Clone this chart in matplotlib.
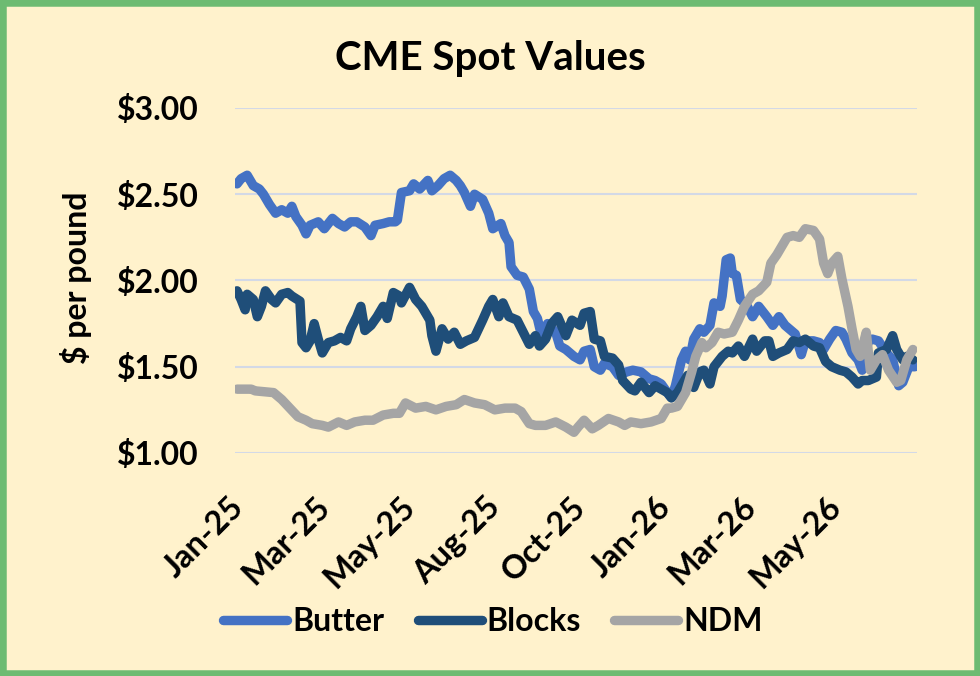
import matplotlib.pyplot as plt
from matplotlib.patches import Rectangle
from matplotlib.transforms import ScaledTranslation

# trading-day index (from first day of Jan-25) and CME spot prices, $/lb
butter_day = [0, 2, 5, 8, 11, 13, 16, 19, 22, 25, 27, 29, 32, 34, 36, 40, 43, 47, 50, 53, 56, 59, 63, 66, 68, 72, 75, 78,
              79, 81, 85, 87, 90, 94, 96, 99, 102, 105, 108, 110, 112, 115, 117, 121, 124, 126, 130, 132, 134, 135, 138,
              141, 144, 146, 148, 150, 153, 157, 159, 162, 166, 169, 171, 174, 176, 179, 181, 185, 188, 192, 195, 199,
              203, 206, 209, 212, 214, 216, 219, 221, 223, 225, 228, 230, 233, 235, 238, 239, 241, 243, 244, 246, 248,
              251, 254, 257, 261, 264, 267, 270, 273, 275, 278, 280, 284, 287, 289, 292, 295, 298, 300, 303, 306, 308,
              311, 313, 316, 320, 323, 326, 328, 331, 334]
butter = [2.56, 2.59, 2.61, 2.55, 2.53, 2.50, 2.44, 2.39, 2.41, 2.39, 2.43, 2.37, 2.32, 2.27, 2.32, 2.34, 2.30, 2.36,
          2.33, 2.31, 2.34, 2.34, 2.31, 2.26, 2.32, 2.33, 2.34, 2.34,
          2.35, 2.51, 2.52, 2.56, 2.53, 2.58, 2.52, 2.55, 2.59, 2.61, 2.58, 2.55, 2.51, 2.43, 2.50, 2.47, 2.39, 2.30,
          2.33, 2.26, 2.22, 2.08, 2.03, 2.02, 1.95, 1.82, 1.78, 1.68, 1.75, 1.70, 1.62, 1.60, 1.56,
          1.54, 1.59, 1.60, 1.50, 1.48, 1.52, 1.50, 1.45, 1.47, 1.48, 1.47, 1.43, 1.42, 1.40, 1.35, 1.32, 1.39, 1.54,
          1.59, 1.54, 1.66, 1.72, 1.70, 1.74, 1.87, 1.85, 1.91, 2.12, 2.13, 2.04, 2.03, 1.89,
          1.86, 1.79, 1.85, 1.79, 1.74, 1.79, 1.74, 1.71, 1.69, 1.57, 1.65, 1.65, 1.64, 1.60, 1.66, 1.71, 1.70, 1.66,
          1.58, 1.54, 1.48, 1.65, 1.66, 1.65, 1.58, 1.54, 1.39, 1.41, 1.50, 1.50]

blocks_day = [0, 2, 4, 5, 8, 10, 12, 14, 17, 19, 22, 25, 27, 31, 32, 34, 36, 38, 40, 42, 45, 48, 51, 54, 56, 59, 61, 63,
              66, 69, 72, 74, 77, 80, 81, 85, 88, 91, 95, 96, 98, 101, 104, 107, 110, 113, 117, 121, 124, 126, 129, 131,
              134, 138, 141, 144, 147, 149, 152, 155, 158, 162, 165, 169, 171, 174, 176, 179, 181, 185, 188, 190, 194,
              196, 199, 203, 206, 209, 212, 214, 217, 220, 222, 225, 228, 230, 233, 235, 239, 242, 244, 247, 250, 254,
              256, 260, 262, 264, 267, 271, 274, 277, 280, 284, 287, 290, 293, 297, 300, 303, 306, 308, 311, 315, 316,
              320, 323, 325, 328, 330, 333]
blocks = [1.94, 1.89, 1.83, 1.92, 1.89, 1.79, 1.85, 1.94, 1.89, 1.87, 1.92, 1.93, 1.91, 1.88, 1.64, 1.61, 1.65, 1.75,
          1.66, 1.58, 1.64, 1.65, 1.67, 1.65, 1.72, 1.79, 1.85, 1.71, 1.74, 1.79, 1.85, 1.78, 1.93, 1.91, 1.87, 1.96,
          1.89, 1.85, 1.77, 1.68, 1.59, 1.72, 1.66, 1.70, 1.63, 1.65, 1.67, 1.77, 1.85, 1.89, 1.79, 1.87, 1.79, 1.77,
          1.70, 1.63, 1.68, 1.62, 1.66, 1.75, 1.79, 1.68, 1.77, 1.74, 1.81, 1.82, 1.66, 1.65, 1.56, 1.55, 1.51, 1.42,
          1.37, 1.36, 1.41, 1.35, 1.39, 1.37, 1.35, 1.32, 1.35, 1.41, 1.45, 1.38, 1.47, 1.48, 1.40, 1.50, 1.56, 1.59,
          1.58, 1.62, 1.56, 1.66, 1.59, 1.65, 1.65, 1.56, 1.58, 1.60, 1.65, 1.64, 1.66, 1.62, 1.61, 1.53, 1.50, 1.48,
          1.47, 1.44, 1.40, 1.42, 1.42, 1.44, 1.58, 1.60, 1.68, 1.60, 1.54, 1.56, 1.54]

ndm_day = [0, 7, 9, 18, 22, 26, 30, 34, 37, 42, 45, 50, 54, 58, 63, 67, 72, 77, 80, 83, 88, 93, 98, 103, 108, 112, 117,
           122, 127, 132, 137, 140, 144, 147, 152, 157, 162, 166, 168, 171, 175, 178, 183, 188, 191, 194, 199, 204, 209,
           212, 214, 217, 221, 224, 226, 229, 231, 234, 237, 240, 244, 247, 250, 254, 257, 261, 263, 266, 268, 271, 274,
           277, 280, 284, 287, 289, 291, 293, 296, 298, 301, 303, 305, 307, 310, 312, 315, 318, 321, 325, 327, 330, 333]
ndm = [1.37, 1.37, 1.36, 1.35, 1.31, 1.26, 1.21, 1.19, 1.17, 1.16, 1.15, 1.18, 1.16, 1.18, 1.19, 1.19, 1.22, 1.23, 1.23,
       1.29, 1.26, 1.27, 1.25, 1.27, 1.28, 1.31, 1.29, 1.28, 1.25, 1.26, 1.26, 1.24, 1.17, 1.16, 1.16, 1.18, 1.15, 1.12,
       1.15, 1.19, 1.14, 1.16, 1.20, 1.18, 1.16, 1.18, 1.17, 1.18, 1.20, 1.26, 1.26, 1.27, 1.35, 1.47, 1.56, 1.64, 1.61,
       1.64, 1.70, 1.69, 1.70, 1.77, 1.85, 1.92, 1.94, 1.99, 2.10, 2.15, 2.19, 2.25, 2.26, 2.25, 2.30, 2.29, 2.24, 2.10,
       2.04, 2.10, 2.14, 2.01, 1.85, 1.72, 1.60, 1.56, 1.70, 1.48, 1.54, 1.57, 1.48, 1.41, 1.42, 1.54, 1.60]

tick_days = [0, 42, 84, 126, 168, 210, 252, 294]
tick_labels = ['Jan-25', 'Mar-25', 'May-25', 'Aug-25', 'Oct-25', 'Jan-26', 'Mar-26', 'May-26']
y_ticks = [1.0, 1.5, 2.0, 2.5, 3.0]

plt.rcParams['font.family'] = ['Lato', 'DejaVu Sans']
bg = '#FFF2CC'

fig = plt.figure(figsize=(9.8, 6.76), dpi=100, facecolor=bg)
ax = fig.add_axes([0.2398, 0.3299, 0.6959, 0.5104])
ax.set_facecolor(bg)

style = dict(lw=6.8, solid_joinstyle='round', solid_capstyle='round')
ax.plot(butter_day, butter, color='#4472C4', label='Butter', **style)
ax.plot(blocks_day, blocks, color='#1F4E79', label='Blocks', **style)
ax.plot(ndm_day, ndm, color='#A5A5A5', label='NDM', **style)

ax.set_xlim(-1, 335)
ax.set_ylim(1.0, 3.0)
ax.set_yticks(y_ticks)
ax.set_yticklabels([f'${v:.2f}' for v in y_ticks], fontsize=23, fontweight='bold')
ax.set_xticks(tick_days)
ax.set_xticklabels(tick_labels, fontsize=23.5, fontweight='bold', rotation=45, ha='right', rotation_mode='anchor')
ax.tick_params(length=0)
ax.tick_params(axis='y', pad=26)
ax.tick_params(axis='x', pad=28)
shift = ScaledTranslation(-8 / 100, 0, fig.dpi_scale_trans)
for lbl in ax.get_xticklabels():
    lbl.set_transform(lbl.get_transform() + shift)
ax.grid(axis='y', color='#D3D9E6', lw=1.5)
ax.set_axisbelow(True)
for s in ax.spines.values():
    s.set_visible(False)

fig.text(76 / 980, 1 - 278 / 676, '$ per pound', rotation=90, ha='center', va='center',
         fontsize=23, fontweight='bold')
fig.text(0.500, 0.914, 'CME Spot Values', ha='center', va='center', fontsize=29, fontweight='bold')

fig.legend(loc='center', bbox_to_anchor=(0.503, 0.081), ncol=3, frameon=False,
           prop={'weight': 'bold', 'size': 23}, handlelength=2.0, columnspacing=1.05, handletextpad=0.15)

fig.patches.append(Rectangle((0, 0), 1, 1, transform=fig.transFigure, fill=False,
                             edgecolor='#6DBB72', lw=9, zorder=10))

fig.savefig('out.png', dpi=100, facecolor=bg)
